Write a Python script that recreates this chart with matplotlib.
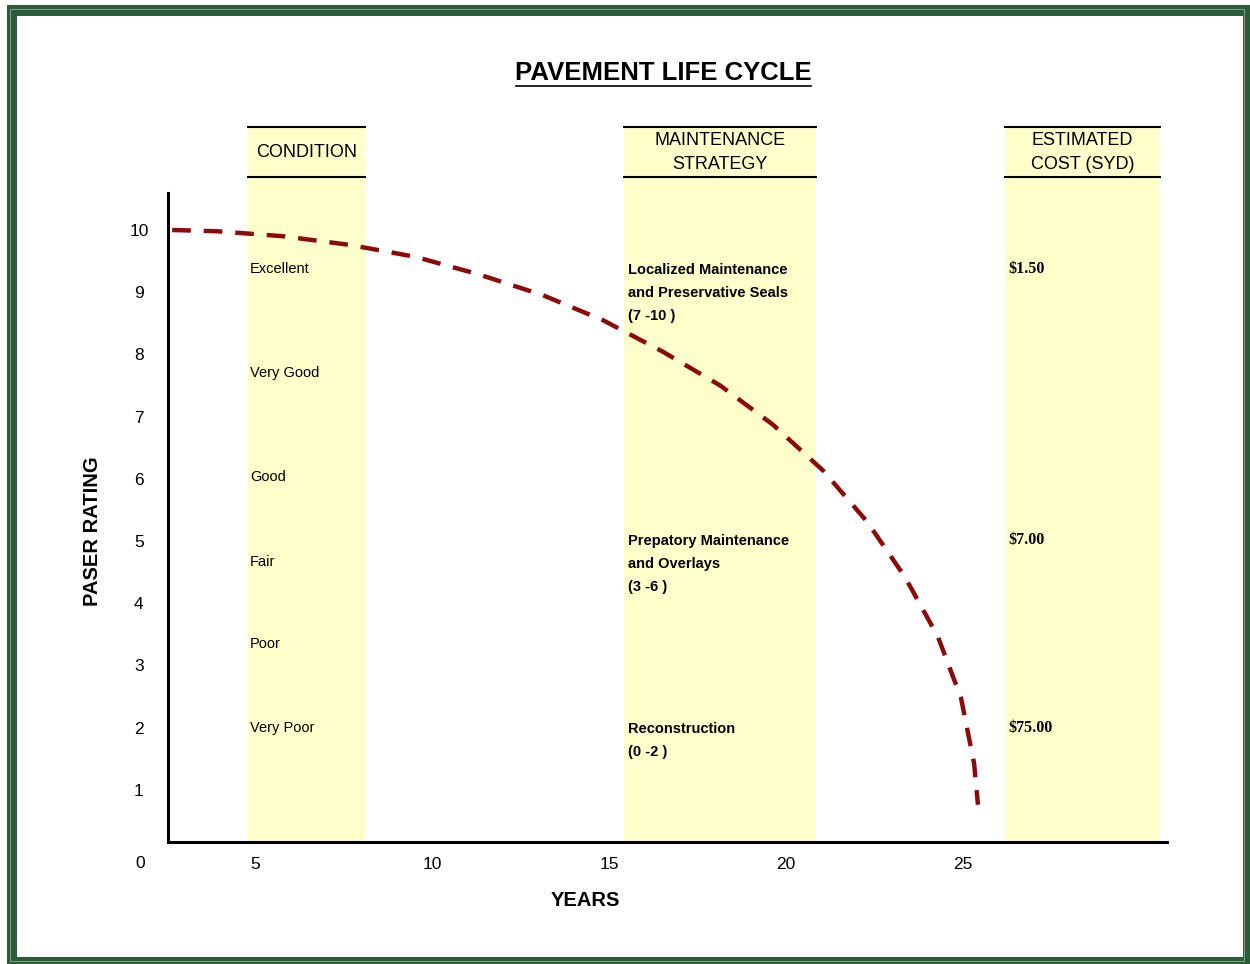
import numpy as np
import matplotlib
matplotlib.use("Agg")
import matplotlib.pyplot as plt
from matplotlib.patches import Rectangle
from matplotlib.lines import Line2D

plt.rcParams['font.family'] = ['Liberation Sans', 'DejaVu Sans']

# ---------------- data ----------------
years = [2.66, 3.93, 5.79, 7.68, 9.52, 11.30, 13.14, 14.83, 16.53, 18.14,
         19.63, 21.05, 22.29, 23.36, 24.29, 24.94, 25.31, 25.42]
rating = [10.0, 9.98, 9.90, 9.76, 9.57, 9.29, 8.95, 8.55, 8.04, 7.50,
          6.87, 6.13, 5.31, 4.42, 3.46, 2.48, 1.43, 0.76]

x_ticks = [5, 10, 15, 20, 25]
y_ticks = [1, 2, 3, 4, 5, 6, 7, 8, 9, 10]

# yellow columns (years from / to)
bands = [(4.80, 8.11), (15.42, 20.85), (26.19, 30.56)]
headers = ["CONDITION", "MAINTENANCE\nSTRATEGY", "ESTIMATED\nCOST (SYD)"]

conditions = ["Excellent", "Very Good", "Good", "Fair", "Poor", "Very Poor"]
condition_y = [9.37, 7.70, 6.03, 4.66, 3.34, 1.99]

strategies = ["Localized Maintenance\nand Preservative Seals\n(7 -10 )",
              "Prepatory Maintenance\nand Overlays\n(3 -6 )",
              "Reconstruction\n(0 -2 )"]
costs = ["$1.50", "$7.00", "$75.00"]
strategy_y = [9.37, 5.01, 1.99]

# ---------------- figure ----------------
fig = plt.figure(figsize=(12.5, 9.64), dpi=100)
W, H = 1250, 964

# green frame
fig.patches.append(Rectangle((7 / W, 0), 1 - 7 / W, 1 - 5 / H, transform=fig.transFigure,
                             facecolor='#2b5d3a', edgecolor='none', zorder=-3))
fig.patches.append(Rectangle((10 / W, 3 / H), 1 - 16 / W, 1 - 12 / H, transform=fig.transFigure,
                             facecolor='none', edgecolor='#8fae98', lw=0.6, zorder=-2))
fig.patches.append(Rectangle((17 / W, 7 / H), (1243 - 17) / W, (957 - 16) / H,
                             transform=fig.transFigure, facecolor='white',
                             edgecolor='none', zorder=-1))

ax = fig.add_axes([168 / W, 1 - 842 / H, (1167 - 168) / W, (842 - 127) / H])
ax.set_facecolor('none')
ax.set_xlim(2.542, 30.76)
ax.set_ylim(0.161, 11.656)

for s in ['top', 'right']:
    ax.spines[s].set_visible(False)
ax.spines['left'].set_bounds(0.161, 10.59)
ax.spines['left'].set_linewidth(2.2)
ax.spines['bottom'].set_linewidth(2.2)

# bands and header rules
for (x0, x1), head in zip(bands, headers):
    ax.axvspan(x0, x1, ymin=0, ymax=1, color='#ffffcc', lw=0, zorder=0)
    ax.plot([x0, x1], [11.656, 11.656], color='black', lw=1.5, clip_on=False)
    ax.plot([x0, x1], [10.85, 10.85], color='black', lw=1.5, clip_on=False)
    ax.text((x0 + x1) / 2, 11.25, head, ha='center', va='center', fontsize=13,
            linespacing=1.5)

# the curve
ax.plot(years, rating, color='#8b0a0a', lw=3.2, dashes=(4.2, 2.9),
        dash_capstyle='butt', solid_joinstyle='round', zorder=3)

for lab, yy in zip(conditions, condition_y):
    ax.text(4.86, yy, lab, ha='left', va='center', fontsize=10.5)

for lab, cost, yy in zip(strategies, costs, strategy_y):
    ax.text(15.54, yy + 0.1, lab, ha='left', va='top', fontsize=10.5,
            fontweight='bold', linespacing=1.8)
    ax.text(26.27, yy, cost, ha='left', va='center', fontsize=11.5,
            fontweight='bold', family='Liberation Serif')

ax.set_xticks(x_ticks)
ax.set_xticklabels([str(v) for v in x_ticks])
ax.set_yticks(y_ticks)
ax.set_yticklabels([str(v) for v in y_ticks])
ax.tick_params(axis='both', length=0, labelsize=12.5)
ax.tick_params(axis='y', pad=21)
ax.tick_params(axis='x', pad=11)
for t in ax.get_yticklabels():
    t.set_horizontalalignment('center')

fig.text(140 / W, 1 - 863 / H, "0", ha='center', va='center', fontsize=12.5)

# axis titles
fig.text(93 / W, 1 - 531 / H, "PASER RATING", rotation=90, ha='center', va='center',
         fontsize=14.5, fontweight='bold')
fig.text(585 / W, 1 - 901 / H, "YEARS", ha='center', va='center',
         fontsize=14.5, fontweight='bold')

# title with underline
fig.text(663 / W, 1 - 73 / H, "PAVEMENT LIFE CYCLE", ha='center', va='center',
         fontsize=18.5, fontweight='bold')
fig.lines.append(Line2D([516 / W, 811 / W], [1 - 86 / H, 1 - 86 / H],
                        transform=fig.transFigure, color='black', lw=1.2))

fig.savefig("out.png", dpi=100)
